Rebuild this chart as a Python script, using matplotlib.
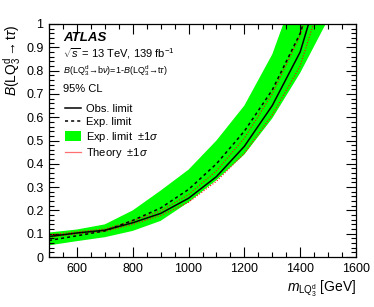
import matplotlib
matplotlib.use("Agg")
import matplotlib.pyplot as plt
from matplotlib.lines import Line2D
from matplotlib.patches import Patch
from matplotlib.ticker import MultipleLocator

plt.rcParams['font.family'] = ['Liberation Sans', 'DejaVu Sans']
plt.rcParams['mathtext.fontset'] = 'custom'
plt.rcParams['mathtext.rm'] = 'Liberation Sans'
plt.rcParams['mathtext.it'] = 'Liberation Sans:italic'
plt.rcParams['mathtext.bf'] = 'Liberation Sans:bold'

# ---- data ----
mass = [500, 600, 700, 800, 900, 1000, 1100, 1200, 1300, 1400, 1500]
obs = [0.088, 0.103, 0.115, 0.147, 0.187, 0.252, 0.345, 0.475, 0.65, 0.88, 1.28]
exp = [0.071, 0.091, 0.112, 0.157, 0.21, 0.29, 0.40, 0.54, 0.717, 0.96, 1.35]
exp_hi = [0.105, 0.118, 0.14, 0.20, 0.285, 0.375, 0.50, 0.65, 0.87, 1.2, 1.6]
exp_lo = [0.05, 0.068, 0.085, 0.112, 0.155, 0.235, 0.33, 0.44, 0.595, 0.79, 1.02]
theo_up = [0.095, 0.108, 0.12, 0.155, 0.198, 0.268, 0.37, 0.51, 0.70, 0.95, 1.35]
theo_dn = [0.085, 0.099, 0.11, 0.14, 0.178, 0.235, 0.325, 0.445, 0.61, 0.82, 1.2]

xticks = [600, 800, 1000, 1200, 1400, 1600]
yticks = [0, 0.1, 0.2, 0.3, 0.4, 0.5, 0.6, 0.7, 0.8, 0.9, 1]
ytick_labels = ['0', '0.1', '0.2', '0.3', '0.4', '0.5', '0.6', '0.7', '0.8', '0.9', '1']

fig = plt.figure(figsize=(3.74, 3.07), dpi=100)
ax = fig.add_axes([49/374, 50/307, (356-49)/374, (257-24)/307])

ax.fill_between(mass, exp_lo, exp_hi, color='#00ff00', lw=0)
ax.plot(mass, theo_up, color='red', lw=0.8, ls=(0, (1, 1.5)))
ax.plot(mass, theo_dn, color='red', lw=0.8, ls=(0, (1, 1.5)))
ax.plot(mass, exp, color='black', lw=1.1, ls=(0, (2, 2)))
ax.plot(mass, obs, color='black', lw=1.1)

ax.set_xlim(500, 1600)
ax.set_ylim(0, 1)
ax.set_xticks(xticks)
ax.set_xticklabels([str(t) for t in xticks])
ax.set_yticks(yticks)
ax.set_yticklabels(ytick_labels)
ax.xaxis.set_minor_locator(MultipleLocator(50))
ax.yaxis.set_minor_locator(MultipleLocator(0.02))
ax.tick_params(which='both', direction='in', top=True, right=True, labelsize=9, pad=4)
ax.tick_params(which='major', length=7, width=0.8)
ax.tick_params(which='minor', length=3.5, width=0.8)
for s in ax.spines.values():
    s.set_linewidth(0.9)

ax.set_xlabel(r'$m_{\mathrm{LQ}_{3}^{\mathrm{d}}}$ [GeV]', fontsize=10, loc='right', labelpad=3)
ax.set_ylabel(r'$B(\mathrm{LQ}_{3}^{\mathrm{d}} \rightarrow \mathrm{t}\tau)$', fontsize=10, loc='top', labelpad=2)

tr = ax.transAxes
def ax_xy(px, py):
    return ((px - 49) / (356 - 49), (257 - py) / (257 - 24))

ax.text(*ax_xy(63, 38), 'ATLAS', transform=tr, fontsize=9.5, fontweight='bold', fontstyle='italic', va='center', ha='left')
ax.text(*ax_xy(63, 54), r'$\sqrt{s}$ = 13 TeV, 139 fb$^{-1}$', transform=tr, fontsize=8, va='center', ha='left')
ax.text(*ax_xy(63, 71), r'$B(\mathrm{LQ}_{3}^{\mathrm{d}}\!\rightarrow\!\mathrm{b}\nu)$=1-$B(\mathrm{LQ}_{3}^{\mathrm{d}}\!\rightarrow\!\mathrm{t}\tau)$', transform=tr, fontsize=6.5, va='center', ha='left')
ax.text(*ax_xy(63, 89), '95% CL', transform=tr, fontsize=8, va='center', ha='left')

handles = [
    Line2D([], [], color='black', lw=1.1),
    Line2D([], [], color='black', lw=1.1, ls=(0, (2, 2))),
    Patch(facecolor='#00ff00', edgecolor='none'),
    Line2D([], [], color='#ff7070', lw=0.9),
]
labels = ['Obs. limit', 'Exp. limit', r'Exp. limit  $\pm1\sigma$', r'Theory  $\pm1\sigma$']
leg = ax.legend(handles, labels, loc='upper left', bbox_to_anchor=ax_xy(65, 104), frameon=False,
                fontsize=8, handlelength=1.4, handleheight=0.9, handletextpad=0.5, labelspacing=0.22,
                borderpad=0, borderaxespad=0)

fig.savefig('out.png', dpi=100)
